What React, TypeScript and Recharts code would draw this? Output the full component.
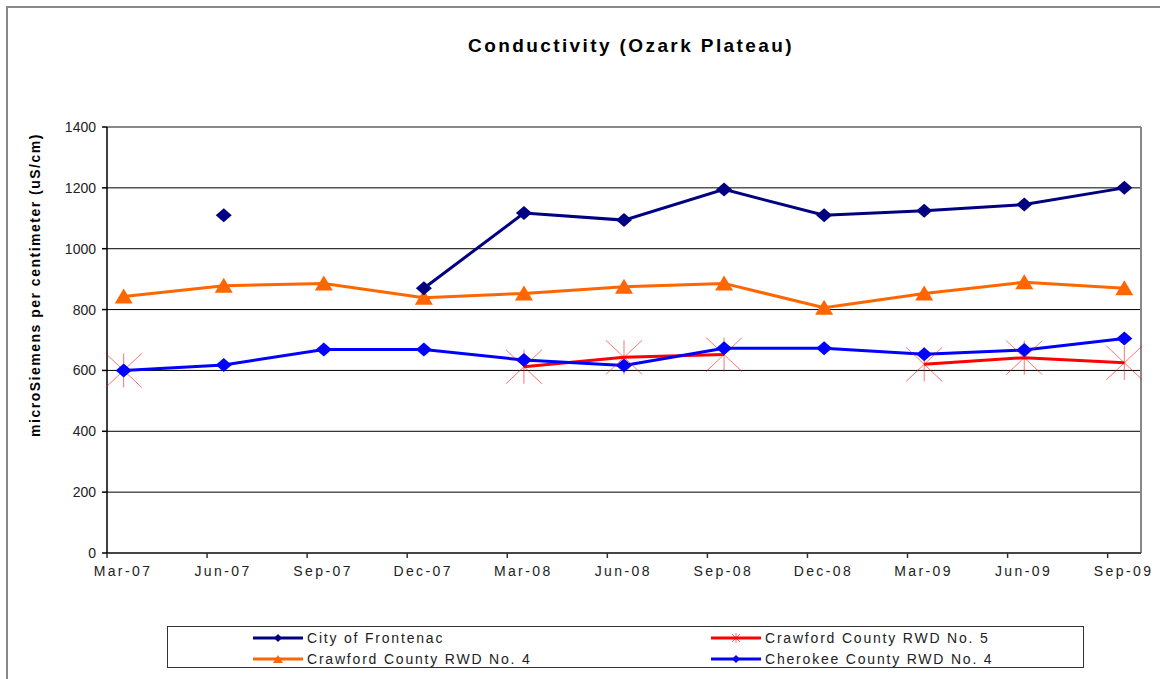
import React from 'react';
import {
  LineChart,
  Line,
  XAxis,
  YAxis,
  CartesianGrid,
  ReferenceLine
} from 'recharts';

// Quarterly sampling, month offsets counted from Mar-07 (samples taken mid-month)
const quarterLabels = ['Mar-07', 'Jun-07', 'Sep-07', 'Dec-07', 'Mar-08', 'Jun-08', 'Sep-08', 'Dec-08', 'Mar-09', 'Jun-09', 'Sep-09'];
const quarterTicks = [0, 3, 6, 9, 12, 15, 18, 21, 24, 27, 30];
const sampleMonths = [0.5, 3.5, 6.5, 9.5, 12.5, 15.5, 18.5, 21.5, 24.5, 27.5, 30.5];

const frontenac = [null, 1110, null, 870, 1117, 1094, 1195, 1110, 1125, 1145, 1200];
const crawford4 = [843, 878, 886, 839, 853, 875, 886, 806, 853, 890, 870];
const crawford5 = [600, null, null, null, 612, 643, 652, null, 620, 642, 625];
const cherokee4 = [600, 618, 669, 669, 634, 616, 673, 673, 653, 667, 705];

const yTicks = [0, 200, 400, 600, 800, 1000, 1200, 1400];

const chartData = sampleMonths.map((m, i) => ({
  m,
  frontenac: frontenac[i],
  crawford4: crawford4[i],
  crawford5: crawford5[i],
  cherokee4: cherokee4[i],
}));

const FONT = '"Liberation Sans", Arial, sans-serif';

const NAVY = '#000080';
const ORANGE = '#FF6600';
const RED = '#FF0000';
const BLUE = '#0000FF';

const diamondDot = (color: string, rx: number, ry: number) => (props: any) => {
  const { cx, cy, index } = props;
  if (cx == null || cy == null) return <g key={`d-${index}`} />;
  return (
    <polygon
      key={`d-${index}`}
      points={`${cx},${cy - ry} ${cx + rx},${cy} ${cx},${cy + ry} ${cx - rx},${cy}`}
      fill={color}
    />
  );
};

const triangleDot = (props: any) => {
  const { cx, cy, index } = props;
  if (cx == null || cy == null) return <g key={`t-${index}`} />;
  return (
    <polygon
      key={`t-${index}`}
      points={`${cx},${cy - 8} ${cx + 9},${cy + 7} ${cx - 9},${cy + 7}`}
      fill={ORANGE}
    />
  );
};

const starDot = (props: any) => {
  const { cx, cy, index } = props;
  if (cx == null || cy == null) return <g key={`s-${index}`} />;
  return (
    <g key={`s-${index}`} stroke={RED} strokeOpacity={0.55} strokeWidth={1}>
      <line x1={cx - 18} y1={cy - 17} x2={cx + 18} y2={cy + 17} />
      <line x1={cx - 18} y1={cy + 17} x2={cx + 18} y2={cy - 17} />
      <line x1={cx} y1={cy - 17} x2={cx} y2={cy + 17} />
    </g>
  );
};

const QuarterTick = (props: any) => {
  const { x, y, payload } = props;
  const idx = quarterTicks.indexOf(payload.value);
  return (
    <text
      x={x + 16}
      y={y}
      dy={12}
      textAnchor="middle"
      fontFamily={FONT}
      fontSize={14}
      letterSpacing={2.4}
      fill="#222"
    >
      {quarterLabels[idx]}
    </text>
  );
};

const YTitle = () => (
  <text
    x={35}
    y={285}
    transform="rotate(-90, 35, 285)"
    textAnchor="middle"
    dominantBaseline="central"
    fontFamily={FONT}
    fontSize={14}
    fontWeight="bold"
    letterSpacing={1.5}
    fill="#000"
  >
    microSiemens per centimeter (uS/cm)
  </text>
);

const legendItems = [
  { name: 'City of Frontenac', color: NAVY, marker: 'diamond', col: 0, row: 0 },
  { name: 'Crawford County RWD No. 5', color: RED, marker: 'star', col: 1, row: 0 },
  { name: 'Crawford County RWD No. 4', color: ORANGE, marker: 'triangle', col: 0, row: 1 },
  { name: 'Cherokee County RWD No. 4', color: BLUE, marker: 'diamond', col: 1, row: 1 },
];

function LegendMarker({ color, marker }: { color: string; marker: string }) {
  return (
    <svg width={50} height={10} style={{ display: 'block' }}>
      <line x1={0} y1={5} x2={50} y2={5} stroke={color} strokeWidth={3} />
      {marker === 'diamond' && <polygon points="25,1 29,5 25,9 21,5" fill={color} />}
      {marker === 'triangle' && <polygon points="25,1 30,9 20,9" fill={color} />}
      {marker === 'star' && (
        <g stroke={color} strokeWidth={1} strokeOpacity={0.6}>
          <line x1={21} y1={1} x2={29} y2={9} />
          <line x1={21} y1={9} x2={29} y2={1} />
          <line x1={25} y1={0} x2={25} y2={10} />
        </g>
      )}
    </svg>
  );
}

export default function App() {
  return (
    <div style={{ position: 'absolute', left: 0, top: 0, width: 1160, height: 679, background: '#fff', fontFamily: FONT }}>
      {/* outer frame (top and left edges only are visible) */}
      <div style={{ position: 'absolute', left: 6, top: 6, width: 1154, height: 2, background: '#888' }} />
      <div style={{ position: 'absolute', left: 6, top: 6, width: 2, height: 673, background: '#888' }} />

      <div
        style={{
          position: 'absolute',
          left: 0,
          width: 1262,
          top: 35,
          textAlign: 'center',
          fontSize: 19,
          fontWeight: 'bold',
          letterSpacing: 2.4,
          color: '#000',
        }}
      >
        Conductivity (Ozark Plateau)
      </div>

      <div style={{ position: 'absolute', left: 0, top: 0 }}>
        <LineChart width={1160} height={679} data={chartData} margin={{ top: 127, right: 19, bottom: 86, left: 27 }}>
          <CartesianGrid vertical={false} stroke="#000" strokeWidth={1} />
          <XAxis
            dataKey="m"
            type="number"
            domain={[0, 31]}
            ticks={quarterTicks}
            height={40}
            tickSize={5}
            tickMargin={6}
            stroke="#333"
            strokeWidth={1.5}
            tick={<QuarterTick />}
            interval={0}
          />
          <YAxis
            type="number"
            domain={[0, 1400]}
            ticks={yTicks}
            width={80}
            tickSize={5}
            tickMargin={6}
            stroke="#000"
            strokeWidth={1.5}
            interval={0}
            tick={{ fill: '#222', fontSize: 14, fontFamily: FONT }}
            label={{ content: <YTitle /> }}
          />
          <ReferenceLine y={1400} stroke="#888" strokeWidth={2} />
          <ReferenceLine x={31} stroke="#888" strokeWidth={2} />

          <Line
            dataKey="crawford4"
            stroke={ORANGE}
            strokeWidth={3}
            dot={triangleDot}
            activeDot={false}
            isAnimationActive={false}
          />
          <Line
            dataKey="frontenac"
            stroke={NAVY}
            strokeWidth={3}
            dot={diamondDot(NAVY, 8, 7)}
            activeDot={false}
            isAnimationActive={false}
          />
          <Line
            dataKey="crawford5"
            stroke={RED}
            strokeWidth={3}
            dot={starDot}
            activeDot={false}
            isAnimationActive={false}
          />
          <Line
            dataKey="cherokee4"
            stroke={BLUE}
            strokeWidth={3}
            dot={diamondDot(BLUE, 8, 7)}
            activeDot={false}
            isAnimationActive={false}
          />
        </LineChart>
      </div>

      {/* legend */}
      <div
        style={{
          position: 'absolute',
          left: 167,
          top: 626,
          width: 917,
          height: 42,
          border: '1px solid #333',
          boxSizing: 'border-box',
        }}
      >
        {legendItems.map((it) => (
          <div
            key={it.name}
            style={{
              position: 'absolute',
              left: it.col === 0 ? 85 : 543,
              top: it.row === 0 ? 3 : 24,
              display: 'flex',
              alignItems: 'center',
              height: 16,
              fontSize: 14,
              letterSpacing: 1.8,
              color: '#222',
              whiteSpace: 'nowrap',
            }}
          >
            <LegendMarker color={it.color} marker={it.marker} />
            <span style={{ marginLeft: 4 }}>{it.name}</span>
          </div>
        ))}
      </div>
    </div>
  );
}
